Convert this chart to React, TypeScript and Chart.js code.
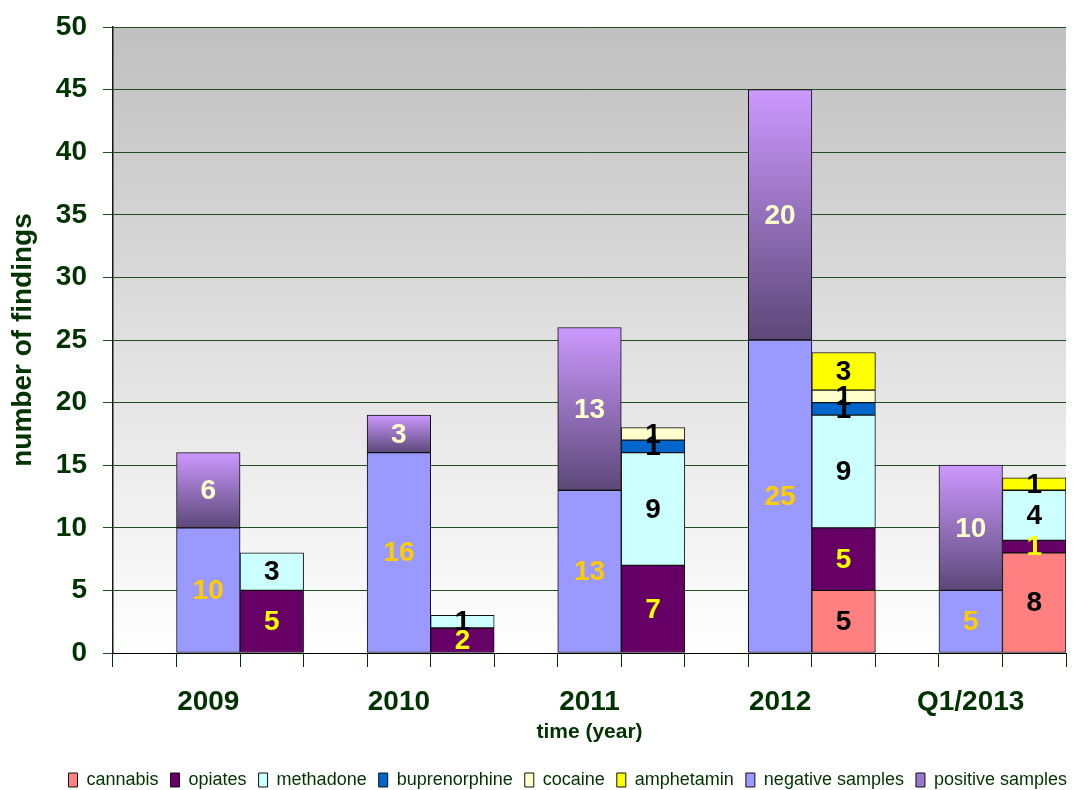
import React, { useEffect, useRef } from 'react';
import { Chart, registerables } from 'chart.js';

Chart.register(...registerables);

// ---- data ----
const years = ['2009', '2010', '2011', '2012', 'Q1/2013'];
const negativeSamples = [10, 16, 13, 25, 5];
const positiveSamples = [6, 3, 13, 20, 10];
const cannabis = [0, 0, 0, 5, 8];
const opiates = [5, 2, 7, 5, 1];
const methadone = [3, 1, 9, 9, 4];
const buprenorphine = [0, 0, 1, 1, 0];
const cocaine = [0, 0, 1, 1, 0];
const amphetamin = [0, 0, 0, 3, 1];
const yMin = 0;
const yMax = 50;
const yStep = 5;

// ---- style ----
const FONT = "'Liberation Sans', Arial, sans-serif";
const TEXT_GREEN = '#003300';
const GRID_GREEN = '#1f4f1f';

const SLOTS = years.length * 3;
const slotLabels = Array.from({ length: SLOTS }, (_, s) => (s % 3 === 1 ? years[(s - 1) / 3] : ''));
const toSlots = (vals: number[], offset: number) =>
  Array.from({ length: SLOTS }, (_, s) => {
    if (s % 3 !== offset) return null;
    const v = vals[(s - offset) / 3];
    return v ? v : null;
  });

const positiveColor = (ctx: any) => {
  const i = ctx.dataIndex;
  const chart = ctx.chart;
  if (i === undefined || !chart.scales || !chart.scales.y) return '#9977cc';
  const yi = (i - 1) / 3;
  if (!Number.isInteger(yi)) return '#9977cc';
  const ys = chart.scales.y;
  const top = ys.getPixelForValue(negativeSamples[yi] + positiveSamples[yi]);
  const bot = ys.getPixelForValue(negativeSamples[yi]);
  if (!isFinite(top) || !isFinite(bot) || top === bot) return '#9977cc';
  const g = chart.ctx.createLinearGradient(0, top, 0, bot);
  g.addColorStop(0, '#cc99ff');
  g.addColorStop(1, '#5c4878');
  return g;
};

const bgPlugin = {
  id: 'plotBg',
  beforeDraw(chart: any) {
    const { ctx, chartArea } = chart;
    if (!chartArea) return;
    const { left, top, right, bottom } = chartArea;
    const g = ctx.createLinearGradient(0, top, 0, bottom);
    g.addColorStop(0, '#c0c0c0');
    g.addColorStop(1, '#ffffff');
    ctx.save();
    ctx.fillStyle = g;
    ctx.fillRect(left, top, right - left, bottom - top);
    ctx.restore();
  },
};

const valueLabelPlugin = {
  id: 'valueLabels',
  afterDatasetsDraw(chart: any) {
    const { ctx } = chart;
    ctx.save();
    ctx.font = `bold 28px ${FONT}`;
    ctx.textAlign = 'center';
    ctx.textBaseline = 'middle';
    chart.data.datasets.forEach((ds: any, di: number) => {
      const meta = chart.getDatasetMeta(di);
      if (meta.hidden) return;
      meta.data.forEach((el: any, j: number) => {
        const v = ds.data[j];
        if (v === null || v === undefined || v === 0) return;
        ctx.fillStyle = ds.labelColor;
        ctx.fillText(String(v), el.x, (el.y + el.base) / 2 + 1);
      });
    });
    ctx.restore();
  },
};

export default function App() {
  const ref = useRef<HTMLCanvasElement>(null);
  useEffect(() => {
    document.body.style.margin = '0';
    const mk = (label: string, vals: number[], offset: number, color: any, labelColor: string) => ({
      label,
      data: toSlots(vals, offset),
      backgroundColor: color,
      borderColor: '#111111',
      borderWidth: 1,
      borderSkipped: false,
      labelColor,
    });
    const chart = new Chart(ref.current as HTMLCanvasElement, {
      type: 'bar',
      data: {
        labels: slotLabels,
        datasets: [
          mk('cannabis', cannabis, 2, '#ff8080', '#000000'),
          mk('opiates', opiates, 2, '#660066', '#ffff00'),
          mk('methadone', methadone, 2, '#ccffff', '#000000'),
          mk('buprenorphine', buprenorphine, 2, '#0066cc', '#000000'),
          mk('cocaine', cocaine, 2, '#ffffcc', '#000000'),
          mk('amphetamin', amphetamin, 2, '#ffff00', '#000000'),
          mk('negative samples', negativeSamples, 1, '#9999ff', '#ffcc00'),
          mk('positive samples', positiveSamples, 1, positiveColor, '#ffffcc'),
        ] as any,
      },
      options: {
        responsive: false,
        animation: false,
        devicePixelRatio: 1,
        layout: { padding: { left: 0, right: 0, top: 27, bottom: 0 } },
        datasets: { bar: { barPercentage: 1, categoryPercentage: 1 } },
        plugins: {
          tooltip: { enabled: false },
          legend: {
            position: 'bottom',
            align: 'end',
            maxHeight: 31,
            labels: {
              boxWidth: 9,
              boxHeight: 14,
              padding: 12,
              color: TEXT_GREEN,
              font: { family: FONT, size: 18 },
            },
          } as any,
        },
        scales: {
          x: {
            stacked: true,
            grid: {
              display: true,
              drawOnChartArea: false,
              drawTicks: true,
              tickLength: 14,
              color: TEXT_GREEN,
              offset: true,
            },
            border: { display: true, color: '#000000', width: 1 },
            ticks: {
              autoSkip: false,
              maxRotation: 0,
              padding: 18,
              color: TEXT_GREEN,
              font: { family: FONT, size: 28, weight: 'bold' },
              callback: (_v: any, i: number) => slotLabels[i],
            },
            title: {
              display: true,
              text: 'time (year)',
              color: TEXT_GREEN,
              font: { family: FONT, size: 21, weight: 'bold' },
              padding: { top: 0, bottom: 14 },
            },
            afterFit: (s: any) => {
              s.height = 106;
            },
          },
          y: {
            stacked: true,
            min: yMin,
            max: yMax,
            grid: { color: GRID_GREEN, lineWidth: 1, tickLength: 10, drawTicks: true },
            border: { display: true, color: '#0a200a', width: 1.5 },
            ticks: {
              stepSize: yStep,
              padding: 16,
              color: TEXT_GREEN,
              font: { family: FONT, size: 28, weight: 'bold' },
            },
            title: {
              display: true,
              text: 'number of findings',
              color: TEXT_GREEN,
              font: { family: FONT, size: 28, weight: 'bold' },
              padding: { top: 6, bottom: 0 },
            },
            afterFit: (s: any) => {
              s.width = 113;
              s.paddingTop = 0;
            },
          },
          yR: {
            position: 'right',
            display: true,
            grid: { display: false, drawTicks: false },
            border: { display: false },
            ticks: { display: false },
            afterFit: (s: any) => {
              s.width = 13;
              s.paddingTop = 0;
            },
          },
        } as any,
      },
      plugins: [bgPlugin, valueLabelPlugin],
    });
    return () => chart.destroy();
  }, []);
  return <canvas ref={ref} width={1079} height={790} style={{ display: 'block' }} />;
}
